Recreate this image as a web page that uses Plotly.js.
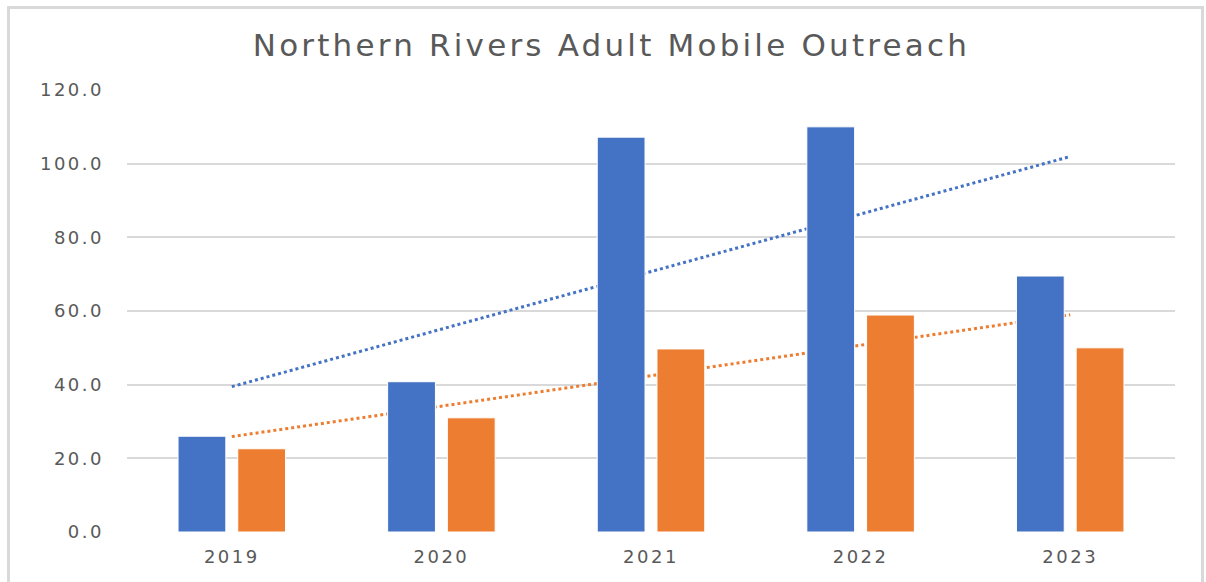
<!DOCTYPE html>
<html>
<head>
<meta charset="utf-8">
<script src="https://cdn.plot.ly/plotly-3.0.1.min.js"></script>
<style>
  body { margin: 0; background: #fff; }
  #myDiv { width: 1206px; height: 582px; }
  #frame { position: absolute; left: 7px; top: 6px; width: 1191px; height: 600px;
           border: 3px solid #d9d9d9; border-bottom: none; pointer-events: none; }
  /* reference text is drawn wide, so spread the letters a bit */
  #myDiv .gtitle { letter-spacing: 3.2px; }
  #myDiv .ytick text, #myDiv .xtick text { letter-spacing: 2.5px; }
</style>
</head>
<body>
<div id="myDiv"></div>
<div id="frame"></div>
<script>
var years = ['2019', '2020', '2021', '2022', '2023'];
var blueValues = [26.0, 40.8, 107.2, 110.0, 69.5];
var orangeValues = [22.6, 31.0, 49.7, 58.9, 50.0];
var yTicks = [0, 20, 40, 60, 80, 100, 120];

// linear trend like Excel's trendline, evaluated at each category index
function trend(vals) {
    var n = vals.length, sx = 0, sy = 0, sxy = 0, sxx = 0;
    for (var i = 0; i < n; i++) {
        sx += i; sy += vals[i]; sxy += i * vals[i]; sxx += i * i;
    }
    var slope = (n * sxy - sx * sy) / (n * sxx - sx * sx);
    var icpt = (sy - slope * sx) / n;
    return vals.map(function (v, i) { return icpt + slope * i; });
}

var blueBars = {
    type: 'bar', x: years, y: blueValues, zorder: 1,
    marker: { color: '#4472C4', line: { color: '#ffffff', width: 1 } },
    hoverinfo: 'x+y'
};
var orangeBars = {
    type: 'bar', x: years, y: orangeValues, zorder: 1,
    marker: { color: '#ED7D31', line: { color: '#ffffff', width: 1 } },
    hoverinfo: 'x+y'
};
var blueTrend = {
    type: 'scatter', mode: 'lines', x: years, y: trend(blueValues), zorder: 0,
    line: { color: '#4472C4', width: 3, dash: 'dot' }
};
var orangeTrend = {
    type: 'scatter', mode: 'lines', x: years, y: trend(orangeValues), zorder: 0,
    line: { color: '#ED7D31', width: 3, dash: 'dot' }
};

var data = [blueBars, orangeBars, blueTrend, orangeTrend];

var layout = {
    width: 1206, height: 582,
    margin: { l: 127, r: 31, t: 90, b: 50 },
    paper_bgcolor: '#ffffff', plot_bgcolor: '#ffffff',
    showlegend: false,
    barmode: 'group', bargap: 0.43, bargroupgap: 0.2,
    font: { family: 'DejaVu Sans, sans-serif', color: '#595959' },
    title: {
        text: 'Northern Rivers Adult Mobile Outreach',
        x: 0.507, xanchor: 'center', y: 0.922, yanchor: 'middle',
        font: { size: 31, color: '#595959', family: 'DejaVu Sans, sans-serif' }
    },
    xaxis: {
        type: 'category', showgrid: false, zeroline: false,
        showline: true, linecolor: '#d9d9d9', linewidth: 2,
        ticks: '', ticklabelstandoff: 7,
        tickfont: { size: 18, color: '#595959' }
    },
    yaxis: {
        range: [0, 120], tickvals: yTicks, tickformat: '.1f',
        showgrid: true, gridcolor: '#d9d9d9', gridwidth: 2,
        zeroline: false, showline: false,
        ticks: '', ticklabelstandoff: 22,
        tickfont: { size: 18, color: '#595959' }
    }
};

var config = { responsive: false, displayModeBar: false, staticPlot: true };

Plotly.newPlot('myDiv', data, layout, config);
</script>
</body>
</html>
